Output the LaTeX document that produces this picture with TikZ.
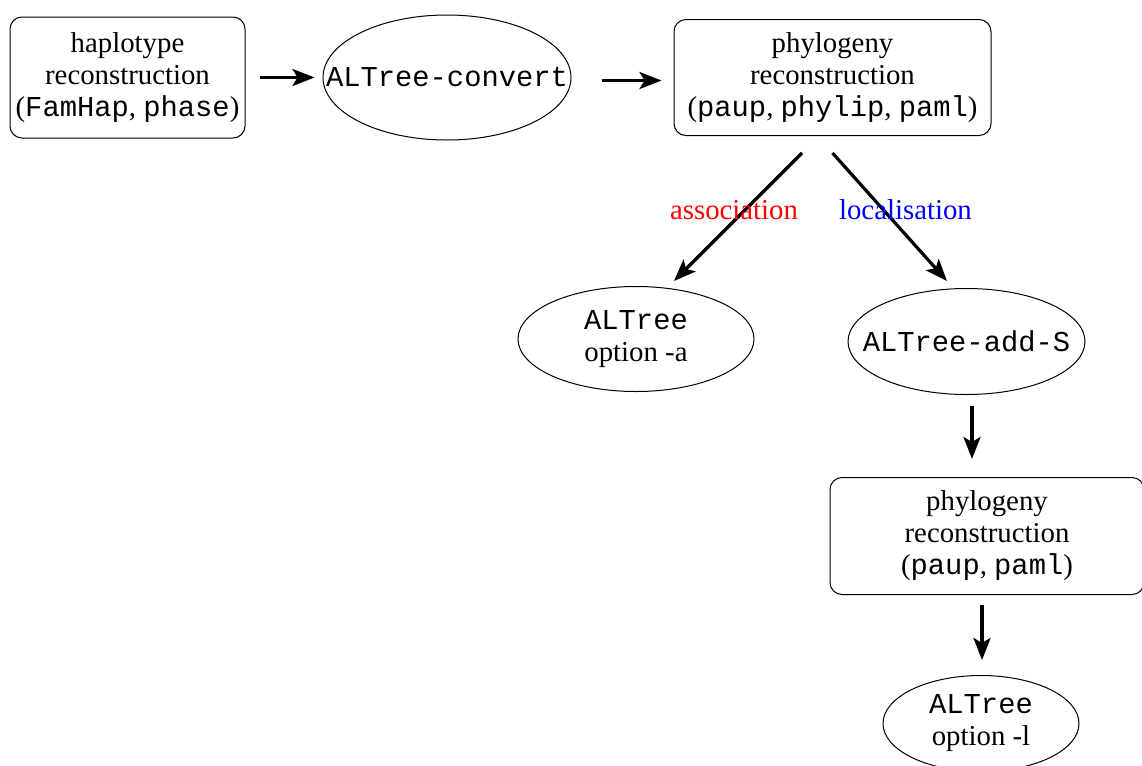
\documentclass[tikz,border=0pt]{standalone}
\usepackage{fontspec}
\setmainfont{Liberation Serif}
\setmonofont{Liberation Mono}
\usetikzlibrary{arrows.meta,positioning,shapes.geometric}

% zero-width line, so the ellipse keeps its given size
\newcommand{\zw}[1]{\makebox[0pt]{#1}}

\begin{document}
\begin{tikzpicture}[>={Stealth[length=11pt,width=8.5pt,inset=2.5pt]},
	every node/.style={font=\fontsize{14.4}{16}\selectfont, align=center},
	prog/.style={draw, rounded corners=6pt, line width=0.5pt, inner sep=0pt},
	tool/.style={draw, ellipse, line width=0.5pt, inner sep=0pt},
	flow/.style={->, line width=1.6pt}]
	\useasboundingbox (0,0) rectangle (571pt,-383pt);

	\node[prog, minimum width=117.5pt, minimum height=60.5pt] (hap) at (63.75pt,-38.75pt)
		{haplotype\\reconstruction\\(\texttt{FamHap}, \texttt{phase})};
	\node[tool, minimum width=124pt, minimum height=62.5pt] (conv) [right=38.5pt of hap] {\zw{\texttt{ALTree-convert}}};
	\node[prog, minimum width=158.5pt, minimum height=58pt] (phylo1) [right=51pt of conv]
		{phylogeny\\reconstruction\\(\texttt{paup}, \texttt{phylip}, \texttt{paml})};
	\node[tool, minimum width=118pt, minimum height=52.5pt] (optA) [below=75pt of phylo1, xshift=-98.25pt]
		{\zw{\texttt{ALTree}}\\\zw{option -a}};
	\node[tool, minimum width=118.5pt, minimum height=53pt] (addS) [below=76pt of phylo1, xshift=67pt]
		{\zw{\texttt{ALTree-add-S}}};
	\node[prog, minimum width=157pt, minimum height=58.5pt] (phylo2) [below=41pt of addS, xshift=10.25pt]
		{phylogeny\\reconstruction\\(\texttt{paup}, \texttt{paml})};
	\node[tool, minimum width=98pt, minimum height=48pt] (optL) [below=40pt of phylo2, xshift=-3pt]
		{\zw{\texttt{ALTree}}\\\zw{option -l}};

	\path[flow]
	(hap) edge[shorten <=7pt, shorten >=4pt] (conv)
	([yshift=-1.5pt]conv.east) edge[shorten <=15pt, shorten >=6pt] ([yshift=-1.5pt]phylo1.west)
	([xshift=-15.25pt,yshift=-8.5pt]phylo1.south) edge node[red, pos=0.445, xshift=-5.5pt] {association}
		([xshift=19pt,yshift=2.5pt]optA.north)
	([yshift=-8.5pt]phylo1.south) edge node[blue, pos=0.445, xshift=11pt] {localisation}
		([xshift=-9.75pt,yshift=3.5pt]addS.north)
	([xshift=2.75pt]addS.south) edge[shorten <=5.5pt, shorten >=9pt] ([xshift=-7.5pt]phylo2.north)
	([xshift=-2.5pt]phylo2.south) edge[shorten <=5pt, shorten >=7.5pt] ([xshift=0.5pt]optL.north)
	;
\end{tikzpicture}
\end{document}
